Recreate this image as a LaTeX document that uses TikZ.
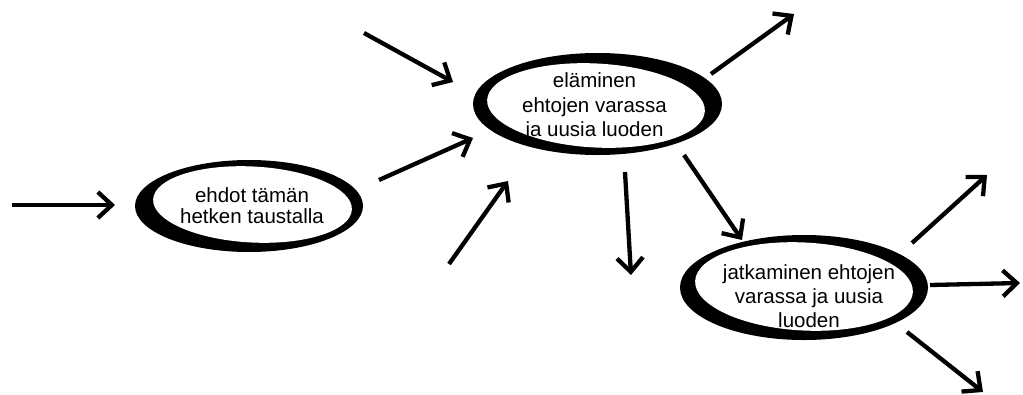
\documentclass[tikz,border=0pt]{standalone}
\usepackage{fontspec}
\setmainfont{Liberation Sans}
\usetikzlibrary{arrows.meta}
\begin{document}
\begin{tikzpicture}[x=1pt,y=-1pt,
  flow/.style={line width=4.3pt, -{Straight Barb[length=14pt,width=26pt]}},
  ringtext/.style={align=center, inner sep=0pt},
  ringhole/.style={fill=white},
]
\useasboundingbox (0,0) rectangle (1023,394);

% brush-stroke rings: a black ellipse with a slightly tilted white hole
\fill (249,206) ellipse [x radius=114pt, y radius=46pt];
\fill[ringhole, rotate around={-3:(252.5,204.5)}] (252.5,204.5) ellipse [x radius=99.5pt, y radius=38pt];

\fill (597.5,104) ellipse [x radius=124.5pt, y radius=51pt];
\fill[ringhole, rotate around={-3:(596,105.5)}] (596,105.5) ellipse [x radius=109pt, y radius=42pt];

\fill (804,287.5) ellipse [x radius=124pt, y radius=52.5pt];
\fill[ringhole, rotate around={-3:(804,286.5)}] (804,286.5) ellipse [x radius=109pt, y radius=44pt];

% texts
\node[ringtext, font=\fontsize{20.5}{21}\selectfont] (t1) at (252,206) {ehdot tämän\\hetken taustalla};
\node[ringtext, font=\fontsize{20.5}{24.5}\selectfont] (t2) at (594.5,107) {eläminen\\ehtojen varassa\\ja uusia luoden};
\node[ringtext, font=\fontsize{20.5}{24}\selectfont] (t3) at (809,296) {jatkaminen ehtojen\\varassa ja uusia\\luoden};

% arrow end points
\coordinate (a1s) at (12,205);   \coordinate (a1e) at (115,205);
\coordinate (a2s) at (379,180);  \coordinate (a2e) at (473,138);
\coordinate (a3s) at (364,33);   \coordinate (a3e) at (453,82);
\coordinate (a4s) at (449,264);  \coordinate (a4e) at (508,181);
\coordinate (a5s) at (711,74);   \coordinate (a5e) at (794,14);
\coordinate (a6s) at (625,172);  \coordinate (a6e) at (631,275);
\coordinate (a7s) at (684,155);  \coordinate (a7e) at (742,240);
\coordinate (a8s) at (912,243);  \coordinate (a8e) at (987,175);
\coordinate (a9s) at (930,285);  \coordinate (a9e) at (1020,283);
\coordinate (a10s) at (907,332); \coordinate (a10e) at (983,392);

\draw[flow] (a1s) -- (a1e);
\draw[flow] (a2s) -- (a2e);
\draw[flow] (a3s) -- (a3e);
\draw[flow] (a4s) -- (a4e);
\draw[flow] (a5s) -- (a5e);
\draw[flow] (a6s) -- (a6e);
\draw[flow] (a7s) -- (a7e);
\draw[flow] (a8s) -- (a8e);
\draw[flow] (a9s) -- (a9e);
\draw[flow] (a10s) -- (a10e);
\end{tikzpicture}
\end{document}
